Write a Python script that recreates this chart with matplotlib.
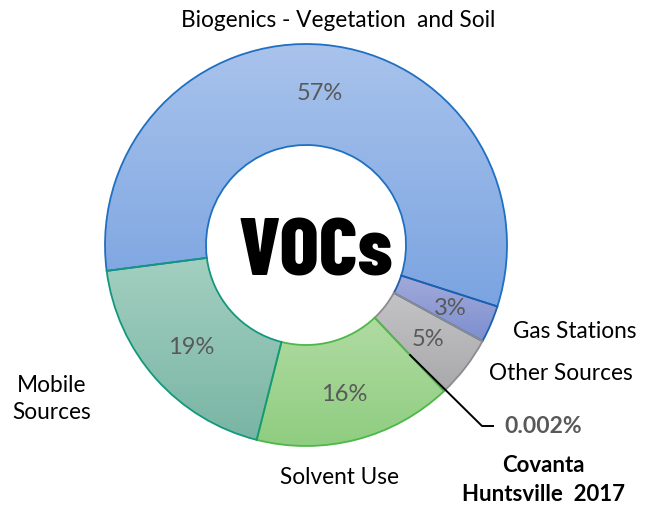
import numpy as np
import matplotlib
matplotlib.use("Agg")
import matplotlib.pyplot as plt
from matplotlib.colors import LinearSegmentedColormap

# slices, clockwise from the left
sources = ["Biogenics - Vegetation  and Soil", "Gas Stations", "Other Sources",
           "Covanta\nHuntsville  2017", "Solvent Use", "Mobile\nSources"]
shares = [57, 3, 5, 0.002, 16, 19]
pct_text = ["57%", "3%", "5%", "0.002%", "16%", "19%"]

top_cols = ["#a9c3ec", "#a2aad9", "#c4c4c6", "#ffffff", "#b0dba2", "#a3cfc0"]
bot_cols = ["#7ba4e1", "#7d8fd0", "#a9a9ab", "#ffffff", "#8fcd80", "#79b5a4"]
edge_cols = ["#1f70c1", "#1f5fb0", "#8c8c8e", "none", "#4db848", "#12987c"]

plt.rcParams["font.family"] = ["Lato", "DejaVu Sans"]

fig = plt.figure(figsize=(6.55, 5.06), dpi=100)
ax = fig.add_axes([0, 0, 1, 1])

cx, cy, R, W = 306, 260, 201, 101
wedges, _ = ax.pie(shares, startangle=187.4, counterclock=False, center=(cx, cy),
                   radius=R, wedgeprops=dict(width=W, linewidth=1.3))

grad = np.linspace(0, 1, 256).reshape(-1, 1)
for w, c0, c1, ec in zip(wedges, top_cols, bot_cols, edge_cols):
    w.set_facecolor("none")
    w.set_edgecolor(ec)
    w.set_zorder(3)
    if ec == "none":
        continue
    ext = w.get_path().get_extents()
    cm = LinearSegmentedColormap.from_list("g", [c1, c0])
    im = ax.imshow(grad, cmap=cm, origin="lower", aspect="auto", zorder=2,
                   extent=(ext.x0, ext.x1, ext.y0, ext.y1))
    im.set_clip_path(w)

# percentage labels in the ring
for i, (w, t) in enumerate(zip(wedges, pct_text)):
    if i == 3:
        continue
    a = np.deg2rad((w.theta1 + w.theta2) / 2)
    r = R - W / 2 + (7 if i == 1 else 3)
    ax.text(cx + r * np.cos(a), cy + r * np.sin(a), t, fontsize=17,
            color="#595959", ha="center", va="center", zorder=5)

# leader for the tiny slice
w = wedges[3]
a = np.deg2rad((w.theta1 + w.theta2) / 2)
r = R - W / 2
ax.plot([cx + r * np.cos(a), 482, 494], [cy + r * np.sin(a), 79, 79],
        color="black", lw=1.4, zorder=6, solid_capstyle="butt")
ax.text(504, 79, pct_text[3], fontsize=16.5, fontweight="bold", color="#595959",
        ha="left", va="center")
ax.text(543, 26, sources[3], fontsize=16, fontweight="bold", color="black",
        ha="center", va="center", linespacing=1.45)

# category labels
ax.text(338, 486, sources[0], fontsize=16.3, ha="center", va="center")
ax.text(575, 174, sources[1], fontsize=16.3, ha="center", va="center")
ax.text(561, 133, sources[2], fontsize=16.3, ha="center", va="center")
ax.text(339, 28, sources[4], fontsize=16.3, ha="center", va="center")
ax.text(52, 107, sources[5], fontsize=16.3, ha="center", va="center", linespacing=1.3)

ax.text(cx + 10, cy - 9, "VOCs", fontsize=59, fontweight=800,
        family=["Barlow Condensed", "DejaVu Sans"], ha="center", va="center",
        zorder=6)

ax.set_xlim(0, 655)
ax.set_ylim(0, 506)
ax.set_aspect("equal")
ax.axis("off")

fig.savefig("out.png", dpi=100)
